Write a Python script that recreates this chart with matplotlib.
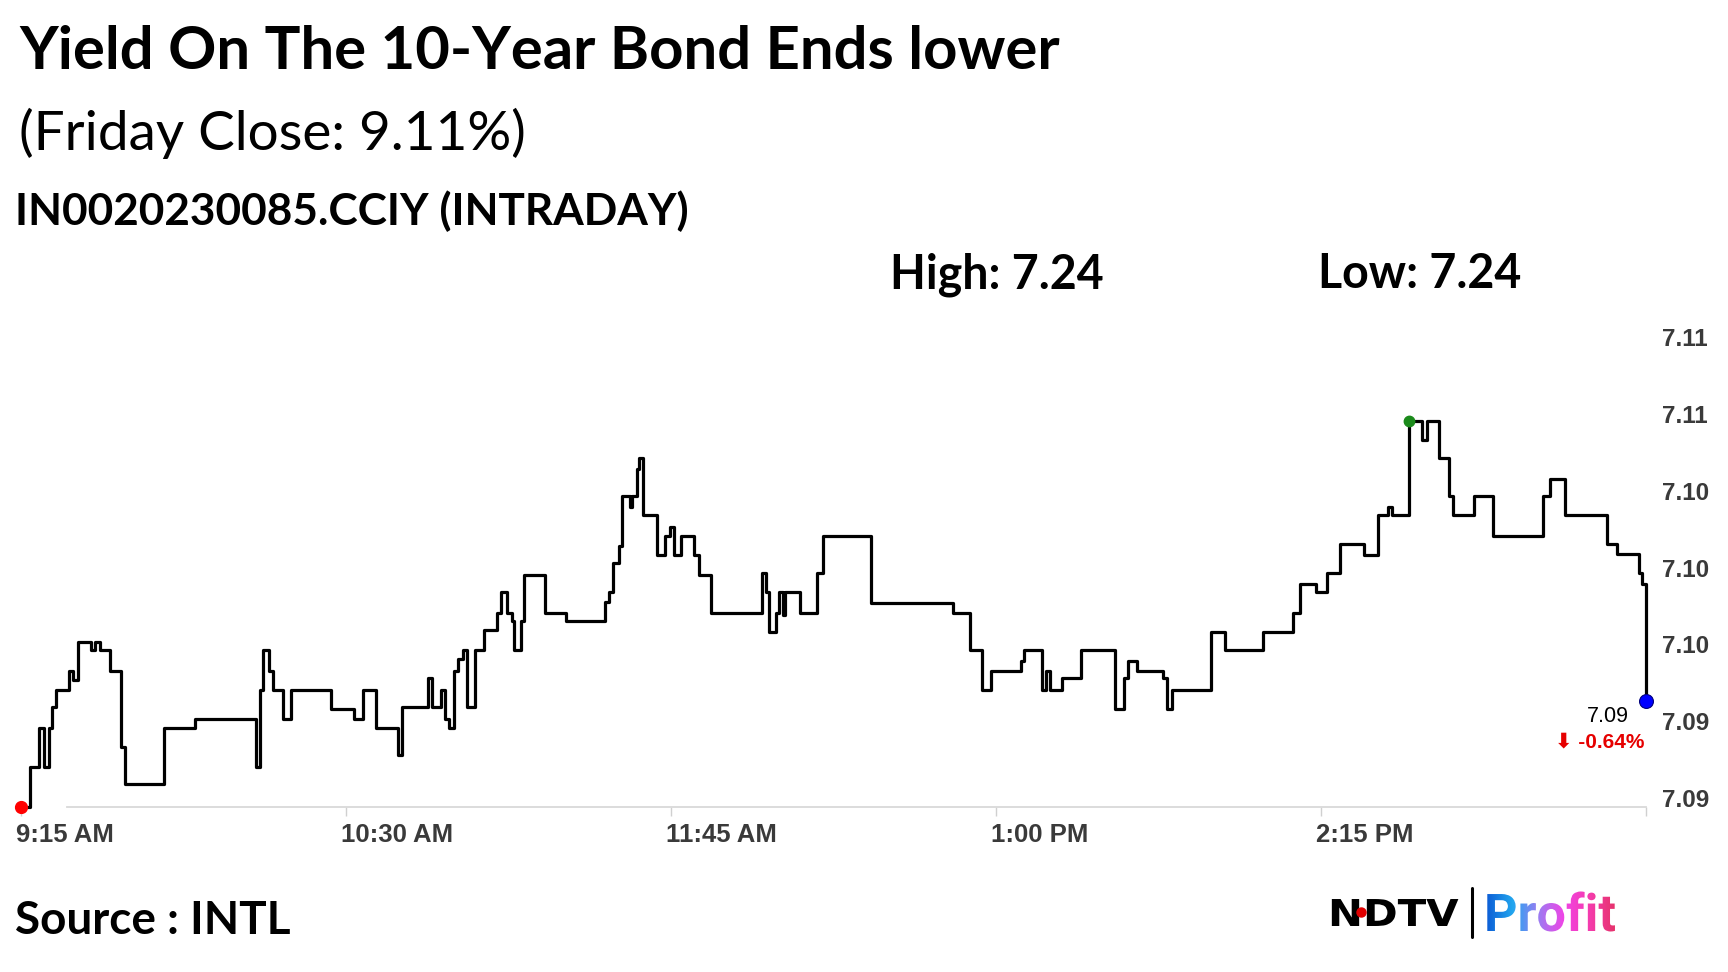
import numpy as np
import matplotlib
matplotlib.use('Agg')
from matplotlib import pyplot as plt
from matplotlib.textpath import TextPath
from matplotlib.font_manager import FontProperties
from matplotlib.patches import PathPatch
from matplotlib.transforms import Affine2D, ScaledTranslation
from matplotlib.colors import LinearSegmentedColormap
from matplotlib.ticker import FormatStrFormatter

# minutes after 9:15 AM, yield at each change (step series)
mins = [0, 2.15, 4.23, 5.46, 6.62, 7.15, 8.15, 11.23, 12.15, 13.15, 16.15, 17.15, 18.31,
        20.62, 23.08, 24.08, 33.08, 40.23, 54.31, 55.23, 56.0, 57.38, 58.15, 60.46, 62.31, 71.62,
        77.0, 79.08, 82.0, 87.0, 87.92, 93.92, 94.85, 97.0, 97.92, 98.85, 100.08, 101.0, 102.0,
        102.92, 104.92, 106.92, 109.85, 110.85, 112.15, 113.31, 113.92, 115.38, 116.23, 121.0,
        125.85, 134.85, 135.85, 136.77, 138.0, 138.85, 140.62, 141.0, 142.15, 142.77, 143.69, 146.77,
        148.69, 149.85, 150.77, 152.31, 155.46, 156.62, 159.31, 171.0, 172.0, 172.77, 174.31,
        175.08, 175.85, 176.38, 179.85, 183.85, 185.23, 196.15, 215.08, 219.08, 221.77, 223.92,
        230.77, 231.62, 235.62, 236.62, 237.54, 240.23, 244.69, 252.54, 254.69, 255.62, 257.54,
        263.54, 264.46, 265.62, 274.69, 277.92, 286.62, 293.54, 295.23, 298.92, 301.38,
        304.46, 310.0, 313.31, 315.46, 316.38, 320.38, 323.31, 324.62, 327.38, 329.62, 330.46,
        335.46, 339.69, 351.23, 352.92, 356.38, 366.15, 368.46, 373.46, 374.08, 375.0]
yields = [7.0880, 7.0901, 7.0921, 7.0901, 7.0921, 7.0932, 7.0941, 7.0951, 7.0946, 7.0966, 7.0962,
          7.0966, 7.0962, 7.0951, 7.0911, 7.0892, 7.0921, 7.0926, 7.0901, 7.0941, 7.0962, 7.0951,
          7.0941, 7.0926, 7.0941, 7.0931,
          7.0926, 7.0941, 7.0921, 7.0907, 7.0932, 7.0947, 7.0932, 7.0941, 7.0926, 7.0921, 7.0951,
          7.0957, 7.0962, 7.0932, 7.0962, 7.0972, 7.0981, 7.0992, 7.0981, 7.0977, 7.0962, 7.0977,
          7.1001, 7.0981, 7.0977, 7.0987, 7.0992, 7.1007, 7.1016, 7.1042, 7.1036, 7.1042, 7.1056,
          7.1062, 7.1032, 7.1011,
          7.1021, 7.1026, 7.1011, 7.1021, 7.1011, 7.1001, 7.0981, 7.1002, 7.0992, 7.0971, 7.0981,
          7.0992, 7.0980, 7.0992, 7.0981, 7.1002, 7.1021, 7.0986, 7.0981, 7.0962, 7.0941, 7.0951,
          7.0956, 7.0962, 7.0941, 7.0951, 7.0941, 7.0947, 7.0962, 7.0931, 7.0947, 7.0956, 7.0951,
          7.0947, 7.0931, 7.0941, 7.0971, 7.0962, 7.0971, 7.0981, 7.0996, 7.0992, 7.1002,
          7.1017, 7.1011, 7.1032, 7.1036, 7.1032, 7.1081, 7.1071, 7.1081, 7.1062, 7.1042, 7.1032,
          7.1042, 7.1021, 7.1042, 7.1051, 7.1032, 7.1017, 7.1012, 7.1002, 7.0996, 7.0935]

x_ticks = [0, 75, 150, 225, 300, 375]
x_labels = ['9:15 AM', '10:30 AM', '11:45 AM', '1:00 PM', '2:15 PM', '']
y_ticks = [7.088, 7.092, 7.096, 7.100, 7.104, 7.108, 7.112]

title = 'Yield On The 10-Year Bond Ends lower'
subtitle = '(Friday Close: 9.11%)'
ticker = 'IN0020230085.CCIY (INTRADAY)'
day_high = 7.24
day_low = 7.24
pct_change = -0.64
source = 'Source : INTL'

W, H = 1728, 972
fig = plt.figure(figsize=(W / 100, H / 100), dpi=100)
fig.patch.set_facecolor('white')

# main chart, placed in pixel terms
left_px, right_px, bottom_px, top_px = 20.7, 1645.7, 807, 330
ax = fig.add_axes([left_px / W, (H - bottom_px) / H, (right_px - left_px) / W, (bottom_px - top_px) / H])
ax.set_facecolor('none')
ax.set_xlim(0, 375)
ax.set_ylim(7.088, 7.088 + (bottom_px - top_px) * 0.004 / 76.8)

ax.plot(mins, yields, drawstyle='steps-post', color='black', lw=2.3, zorder=3, clip_on=False)
ax.plot(mins[0], yields[0], 'o', color='#ff0000', ms=8.5, clip_on=False, zorder=4)
i_max = int(np.argmax(yields))
ax.plot(mins[i_max], yields[i_max], 'o', color='#1b8a1b', ms=7.5, clip_on=False, zorder=4)
ax.plot(mins[-1], yields[-1], 'o', color='#0000ff', mec='#00007a', mew=0.8, ms=10, clip_on=False, zorder=4)

ax.annotate(f'{yields[-1]:.2f}', (mins[-1], yields[-1]), xytext=(-17, -15),
            textcoords='offset pixels', ha='right', va='center', fontsize=15.5,
            family='Liberation Sans', color='black')
ax.annotate(f'\u2b07 {pct_change:.2f}%', (mins[-1], yields[-1]), xytext=(-1, -41),
            textcoords='offset pixels', ha='right', va='center', fontsize=15,
            family=['Liberation Sans', 'DejaVu Sans'], fontweight='bold', color='#e60000')

for s in ['top', 'left', 'right']:
    ax.spines[s].set_visible(False)
ax.spines['bottom'].set_color('#d9d9d9')
ax.spines['bottom'].set_linewidth(1.3)
ax.spines['bottom'].set_bounds(10.7, 375)

ax.set_xticks(x_ticks)
ax.set_xticklabels(x_labels)
ax.tick_params(axis='x', length=6.5, width=1, color='#d0d0d0', pad=5,
               labelsize=18.5, labelcolor='#3a3a3a')
for lab in ax.get_xticklabels():
    lab.set_fontweight('bold')
    lab.set_family('Liberation Sans')
    lab.set_horizontalalignment('left')
    lab.set_transform(lab.get_transform() + ScaledTranslation(-0.05, 0, fig.dpi_scale_trans))

ax.yaxis.tick_right()
ax.set_yticks(y_ticks)
ax.yaxis.set_major_formatter(FormatStrFormatter('%.2f'))
ax.tick_params(axis='y', length=0, pad=11.5, labelsize=17.5, labelcolor='#3a3a3a')
for lab in ax.get_yticklabels():
    lab.set_fontweight('bold')
    lab.set_family('Liberation Sans')
    lab.set_transform(lab.get_transform() + ScaledTranslation(0, 0.09, fig.dpi_scale_trans))

# overlay in pixel coordinates (y down) for headings and logo
ov = fig.add_axes([0, 0, 1, 1])
ov.set_facecolor('none')
ov.axis('off')

ov.text(19, 69, title, fontsize=43, fontweight='bold', family='Lato', va='baseline')
ov.text(19, 150, subtitle, fontsize=39.5, family='Lato', va='baseline')
ov.text(15, 225, ticker, fontsize=31.8, fontweight='bold', family='Lato', va='baseline')
ov.text(890, 288, f'High: {day_high:.2f}', fontsize=33.5, fontweight='bold', family='Lato', va='baseline')
ov.text(1318, 288, f'Low: {day_low:.2f}', fontsize=33.5, fontweight='bold', family='Lato', va='baseline')
ov.text(15, 934, source, fontsize=33, fontweight='bold', family='Lato', va='baseline')

# logo: NDTV | Profit
nd = TextPath((0, 0), 'NDTV', size=37, prop=FontProperties(family='DejaVu Sans', weight='bold'))
nd = Affine2D().scale(1.13, -1).translate(1328, 926).transform_path(nd)
ov.add_patch(PathPatch(nd, transform=ov.transData, facecolor='black', edgecolor='none'))
ov.plot([1361], [912], 'o', color='#e00000', ms=6.5, zorder=5)
ov.plot([1472, 1472], [888, 937], color='black', lw=2.2, solid_capstyle='round')

tp = TextPath((0, 0), 'Profit', size=52, prop=FontProperties(family='Roboto', weight='bold'))
tp = Affine2D().scale(1, -1).translate(1484, 931).transform_path(tp)
patch = PathPatch(tp, transform=ov.transData, facecolor='none', edgecolor='none')
grad_cmap = LinearSegmentedColormap.from_list(
    'profit', ['#0d5fd6', '#22a6ef', '#9a7df2', '#f044e6', '#f53cae', '#e6336c'])
ext = tp.get_extents()
im = ov.imshow(np.linspace(0, 1, 256).reshape(1, -1), cmap=grad_cmap, aspect='auto',
               extent=[ext.x0, ext.x1, ext.y1, ext.y0])
im.set_clip_path(patch)

ov.set_xlim(0, W)
ov.set_ylim(H, 0)

fig.savefig('out.png', dpi=100, facecolor='white')
